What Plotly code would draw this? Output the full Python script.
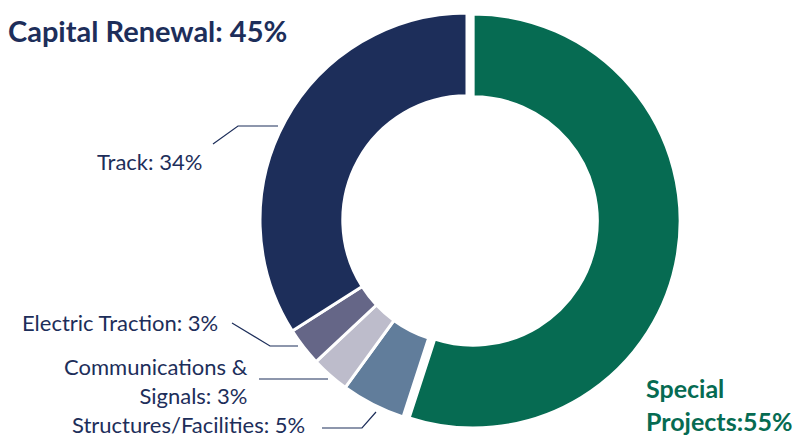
import plotly.graph_objects as go

# Budget split (percent)
categories = ["Special Projects", "Structures/Facilities", "Communications & Signals",
              "Electric Traction", "Track"]
values = [55, 5, 3, 3, 34]
colors = ["#066B52", "#617D9B", "#BDBCCB", "#656687", "#1D2E5A"]
group_name = "Capital Renewal"

W, H = 799, 438
NAVY = "#1D2E5A"
GREEN = "#066B52"
FONT = "Lato"


def px(x):
    return x / W


def py(y):
    return 1 - y / H


# pie geometry in pixels
cx, cy, r, pull = 467, 220, 207, 0.03
half = r * (1 + pull)

fig = go.Figure(go.Pie(
    labels=categories,
    values=values,
    sort=False,
    direction="clockwise",
    rotation=0,
    hole=0.6,
    pull=[pull, 0, 0, 0, 0],
    marker=dict(colors=colors, line=dict(color="white", width=3)),
    textinfo="none",
    hoverinfo="label+percent",
    domain=dict(x=[px(cx - half), px(cx + half)], y=[py(cy + half), py(cy - half)]),
    showlegend=False,
))

capital_total = sum(values[1:])
pct = dict(zip(categories, values))

small_font = dict(family=FONT, size=22, color=NAVY)
annotations = [
    dict(x=px(6), y=py(30), xanchor="left", yanchor="middle",
         text=f"<b>{group_name}: {capital_total}%</b>",
         font=dict(family=FONT, size=29, color=NAVY)),
    dict(x=px(644), y=py(404), xanchor="left", yanchor="middle", align="left",
         text=f"<b>Special<br>Projects:{pct['Special Projects']}%</b>",
         font=dict(family=FONT, size=25, color=GREEN)),
    dict(x=px(95), y=py(161), xanchor="left", yanchor="middle",
         text=f"Track: {pct['Track']}%", font=small_font),
    dict(x=px(20), y=py(322), xanchor="left", yanchor="middle",
         text=f"Electric Traction: {pct['Electric Traction']}%", font=small_font),
    dict(x=px(250), y=py(381), xanchor="right", yanchor="middle", align="right",
         text=f"Communications &<br>Signals: {pct['Communications & Signals']}%",
         font=small_font),
    dict(x=px(70), y=py(424), xanchor="left", yanchor="middle",
         text=f"Structures/Facilities: {pct['Structures/Facilities']}%", font=small_font),
]
for a in annotations:
    a.update(xref="paper", yref="paper", showarrow=False)

# leader lines (pixel polylines)
leaders = [
    [(213, 144), (238, 126), (278, 126)],
    [(232, 323), (270, 346), (298, 346)],
    [(259, 379), (328, 379)],
    [(322, 428), (362, 428), (376, 412)],
]
shapes = []
for pts in leaders:
    path = "M " + " L ".join(f"{px(x)},{py(y)}" for x, y in pts)
    shapes.append(dict(type="path", xref="paper", yref="paper", path=path,
                       line=dict(color=NAVY, width=1.2)))

fig.update_layout(
    width=W, height=H,
    margin=dict(l=0, r=0, t=0, b=0),
    paper_bgcolor="white",
    plot_bgcolor="white",
    annotations=annotations,
    shapes=shapes,
)

fig.write_html("out.html")
